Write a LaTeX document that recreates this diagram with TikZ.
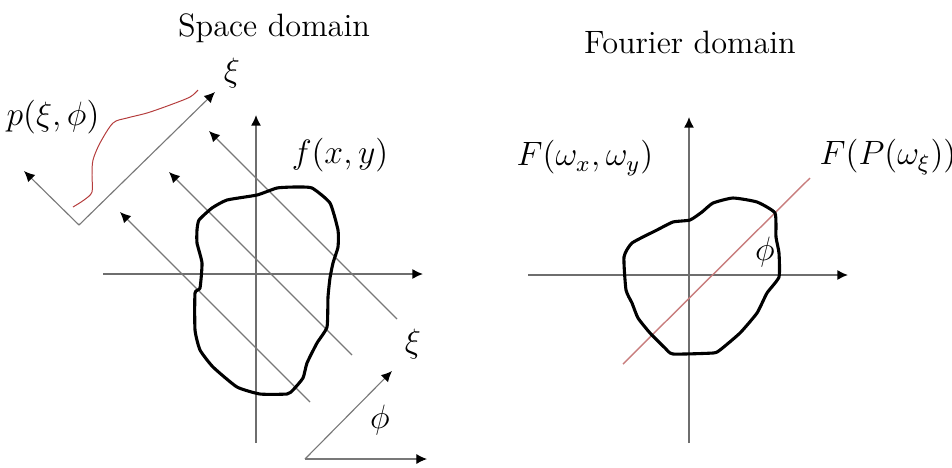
\documentclass[tikz,border=0pt]{standalone}
\usepackage{amsmath}
\usepackage{amssymb}
\usetikzlibrary{arrows.meta}

\definecolor{axisgray}{RGB}{110,110,110}
\definecolor{raygray}{RGB}{120,120,120}
\definecolor{curvered}{RGB}{180,60,60}
\definecolor{linered}{RGB}{200,125,125}

\tikzset{
  axis/.style={draw=axisgray, line width=0.55pt, -{Latex[length=3.8pt,width=3.6pt,black]}},
  ray/.style={draw=raygray, line width=0.4pt, -{Latex[length=3.8pt,width=3.6pt,black]}},
  blob/.style={draw=black, line width=1.1pt, line join=round},
  lbl/.style={font=\fontsize{11.5}{14}\selectfont, inner sep=0pt}
}

\begin{document}
\begin{tikzpicture}[x=0.0125cm, y=-0.0125cm]
  \useasboundingbox (0,0) rectangle (952,467);

  % titles
  \node[lbl] (spacetitle) at (274,28) {Space domain};
  \node[lbl] (fouriertitle) at (690,42) {Fourier domain};

  % space domain axes
  \draw[axis] (103,274) -- (423,274);
  \draw[axis] (256,443) -- (256,115);

  % projection axes
  \draw[ray] (79,225) -- (215,92);
  \draw[ray] (79,225) -- (24,171);
  \node[lbl] (xitop) at (232,73) {$\xi$};
  \node[lbl] (proj) at (53,117) {$p(\xi,\phi)$};
  \draw[curvered, line width=0.35pt] plot[smooth, tension=0.5] coordinates {
    (73,207) (84,200) (92,192) (92,175) (93,160) (100,143) (113,123)
    (127,118) (147,113) (170,105) (190,97) (198,90)};

  % rays
  \draw[ray] (310,402) -- (120,212);
  \draw[ray] (352,355) -- (169,172);
  \draw[ray] (397,319) -- (209,131);
  \node[lbl] (fxy) at (340,155) {$f(x,y)$};
  \node[lbl] (xibot) at (413,344) {$\xi$};

  % angle
  \draw[ray] (305,459) -- (427,459);
  \draw[ray] (305,459) -- (392,371);
  \node[lbl] (phileft) at (380,420) {$\phi$};

  % object
  \draw[blob] plot[smooth cycle, tension=0.3] coordinates {
    (197,230) (199,220) (212,208) (227,200) (257,195) (277,188) (295,187)
    (312,188) (330,203) (338,230) (338,247) (333,263) (330,278) (328,297)
    (327,327) (317,343) (307,363) (303,378) (293,390) (287,394) (260,394)
    (237,387) (213,367) (200,350) (195,330) (195,293) (200,288) (202,263)
    (197,243)};

  % fourier domain axes
  \draw[axis] (528,275) -- (848,275);
  \draw[axis] (689,443) -- (689,117);
  \draw[linered, line width=0.5pt] (623,364) -- (810,178);
  \node[lbl] (Fxy) at (585,158) {$F(\omega_x,\omega_y)$};
  \node[lbl] (FP) at (888,157) {$F(P(\omega_\xi))$};
  \node[lbl] (phiright) at (765,252) {$\phi$};

  \draw[blob] plot[smooth cycle, tension=0.3] coordinates {
    (690,220) (702,212) (713,203) (733,198) (757,202) (775,213) (776,237)
    (779,253) (779,277) (767,293) (757,313) (740,333) (720,350) (713,353)
    (673,354) (665,348) (650,333) (638,318) (632,303) (626,290) (624,257)
    (632,243) (657,230) (673,222)};
\end{tikzpicture}
\end{document}
